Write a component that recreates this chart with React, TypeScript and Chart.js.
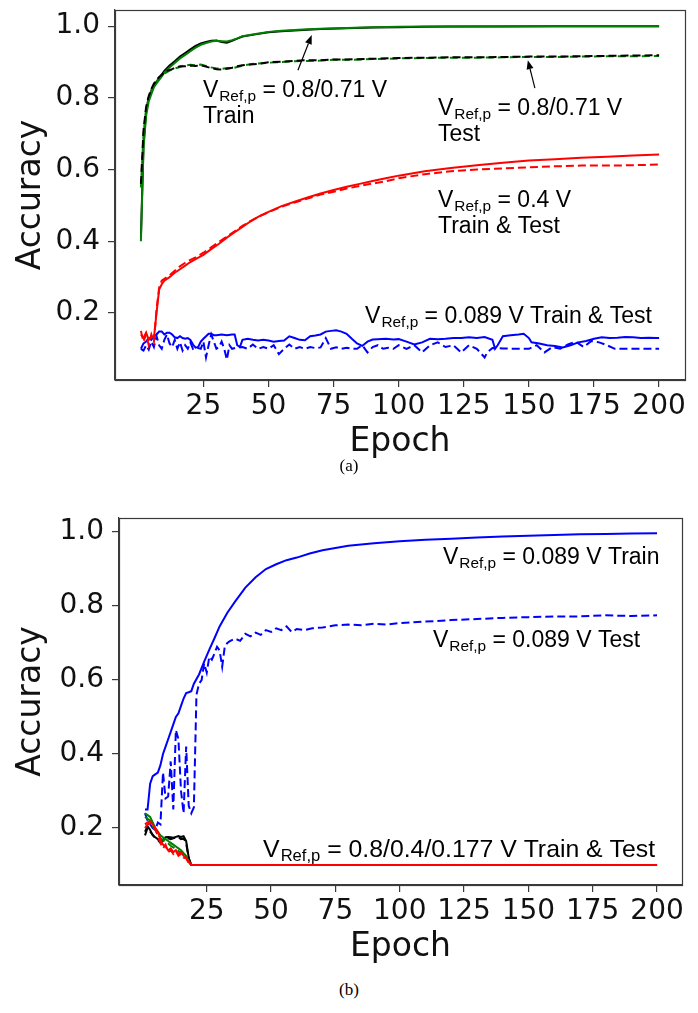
import React, { useEffect, useRef } from "react";
import { Chart, registerables } from "chart.js";
Chart.register(...registerables);

// ---------- tick labels ----------
const X_TICKS = [25, 50, 75, 100, 125, 150, 175, 200];
const Y_TICKS = [0.2, 0.4, 0.6, 0.8, 1.0];

// ---------- (a) top panel ----------
const A_TRAIN_EP = [1, 2, 3, 4, 5, 6, 7, 8, 9, 10, 12, 14, 16, 18, 20, 22, 24, 26, 28, 30, 32, 34, 36, 38, 40, 45, 50, 55, 60, 65, 70, 80, 90, 100, 110, 120, 140, 160, 180, 200];
const A_GREEN_TRAIN = [0.40, 0.66, 0.75, 0.79, 0.81, 0.83, 0.84, 0.85, 0.86, 0.87, 0.885, 0.897, 0.91, 0.92, 0.93, 0.94, 0.948, 0.953, 0.957, 0.959, 0.958, 0.957, 0.961, 0.966, 0.972, 0.978, 0.984, 0.987, 0.989, 0.991, 0.993, 0.995, 0.997, 0.998, 0.999, 0.999, 1.0, 1.0, 1.0, 1.0];
const A_BLACK_TRAIN = [0.41, 0.67, 0.76, 0.80, 0.82, 0.835, 0.845, 0.855, 0.865, 0.875, 0.89, 0.902, 0.915, 0.925, 0.935, 0.945, 0.952, 0.956, 0.959, 0.96, 0.956, 0.954, 0.959, 0.965, 0.971, 0.977, 0.983, 0.986, 0.988, 0.99, 0.992, 0.994, 0.996, 0.997, 0.998, 0.999, 0.999, 1.0, 1.0, 1.0];

const A_TEST_EP = [1, 2, 3, 4, 5, 6, 7, 8, 9, 10, 11, 12, 13, 14, 16, 18, 20, 22, 24, 26, 28, 30, 32, 34, 36, 38, 40, 43, 46, 50, 55, 60, 65, 70, 75, 80, 90, 100, 110, 120, 130, 140, 150, 160, 170, 180, 190, 200];
const A_GREEN_TEST = [0.55, 0.70, 0.77, 0.80, 0.82, 0.835, 0.845, 0.855, 0.862, 0.868, 0.872, 0.876, 0.879, 0.882, 0.886, 0.89, 0.892, 0.891, 0.893, 0.889, 0.885, 0.882, 0.881, 0.883, 0.882, 0.886, 0.89, 0.894, 0.896, 0.898, 0.9, 0.902, 0.903, 0.904, 0.906, 0.906, 0.908, 0.91, 0.911, 0.912, 0.912, 0.913, 0.914, 0.914, 0.915, 0.916, 0.916, 0.917];
const A_BLACK_TEST = [0.56, 0.71, 0.775, 0.805, 0.825, 0.84, 0.85, 0.858, 0.864, 0.87, 0.875, 0.878, 0.88, 0.884, 0.888, 0.888, 0.89, 0.889, 0.891, 0.887, 0.883, 0.88, 0.879, 0.881, 0.884, 0.888, 0.891, 0.893, 0.895, 0.899, 0.901, 0.903, 0.905, 0.905, 0.907, 0.907, 0.909, 0.911, 0.912, 0.913, 0.913, 0.914, 0.915, 0.915, 0.916, 0.917, 0.918, 0.919];

const A_RED_EP = [1, 2, 3, 4, 5, 6, 7, 8, 9, 10, 12, 14, 16, 18, 20, 22, 25, 28, 31, 34, 37, 40, 43, 46, 50, 55, 60, 65, 70, 75, 80, 85, 90, 95, 100, 110, 120, 130, 140, 150, 160, 170, 180, 190, 200];
const A_RED_TRAIN = [0.14, 0.13, 0.145, 0.125, 0.135, 0.13, 0.2, 0.265, 0.28, 0.29, 0.3, 0.312, 0.322, 0.332, 0.342, 0.35, 0.362, 0.378, 0.393, 0.41, 0.425, 0.44, 0.455, 0.468, 0.482, 0.498, 0.51, 0.522, 0.533, 0.543, 0.552, 0.56, 0.568, 0.576, 0.583, 0.595, 0.604, 0.612, 0.619, 0.625, 0.629, 0.633, 0.636, 0.639, 0.642];
const A_RED_TEST = [0.15, 0.12, 0.14, 0.11, 0.14, 0.12, 0.21, 0.27, 0.29, 0.295, 0.305, 0.318, 0.33, 0.34, 0.348, 0.355, 0.368, 0.383, 0.398, 0.413, 0.428, 0.443, 0.456, 0.468, 0.481, 0.496, 0.508, 0.519, 0.53, 0.538, 0.547, 0.554, 0.561, 0.567, 0.576, 0.587, 0.595, 0.6, 0.603, 0.606, 0.609, 0.611, 0.611, 0.612, 0.614];

const A_BLUE_TRAIN_EP = [1, 2, 3, 4, 5, 6, 7, 8, 9, 10, 11, 12, 13, 14, 15, 16, 17, 18, 19, 20, 21, 22, 23, 24, 25, 26, 27, 28, 29, 30, 32, 34, 36, 37, 38, 39, 40, 42, 44, 46, 48, 50, 52, 54, 56, 58, 60, 62, 64, 66, 68, 70, 72, 74, 76, 78, 80, 82, 84, 86, 88, 90, 92, 95, 98, 100, 103, 106, 109, 112, 115, 118, 121, 124, 127, 130, 133, 136, 137, 138, 140, 143, 146, 148, 150, 151, 154, 157, 160, 163, 166, 169, 172, 175, 178, 181, 184, 187, 190, 193, 196, 199, 200];
const A_BLUE_TRAIN = [0.10, 0.115, 0.12, 0.13, 0.125, 0.135, 0.14, 0.148, 0.148, 0.14, 0.145, 0.145, 0.14, 0.132, 0.13, 0.135, 0.13, 0.128, 0.13, 0.125, 0.112, 0.103, 0.105, 0.12, 0.128, 0.135, 0.142, 0.142, 0.138, 0.138, 0.14, 0.138, 0.14, 0.14, 0.11, 0.105, 0.125, 0.128, 0.125, 0.123, 0.125, 0.123, 0.12, 0.122, 0.123, 0.135, 0.13, 0.125, 0.124, 0.135, 0.137, 0.14, 0.148, 0.15, 0.152, 0.148, 0.142, 0.128, 0.115, 0.108, 0.12, 0.126, 0.127, 0.128, 0.126, 0.127, 0.12, 0.112, 0.118, 0.128, 0.127, 0.128, 0.13, 0.13, 0.132, 0.13, 0.133, 0.125, 0.1, 0.11, 0.135, 0.138, 0.14, 0.142, 0.13, 0.118, 0.115, 0.11, 0.108, 0.104, 0.11, 0.118, 0.122, 0.128, 0.132, 0.13, 0.131, 0.133, 0.132, 0.13, 0.131, 0.13, 0.13];

const A_BLUE_TEST_EP = [1, 2, 3, 4, 5, 6, 7, 8, 9, 10, 11, 12, 13, 14, 15, 16, 17, 18, 19, 20, 21, 22, 24, 25, 26, 27, 28, 29, 30, 31, 32, 33, 34, 35, 36, 38, 40, 42, 44, 46, 48, 50, 52, 54, 56, 58, 60, 62, 64, 66, 68, 70, 72, 74, 76, 78, 80, 82, 84, 86, 88, 90, 92, 94, 96, 98, 100, 103, 106, 109, 112, 115, 118, 121, 124, 127, 130, 133, 134, 136, 140, 145, 150, 153, 156, 159, 162, 165, 168, 171, 174, 177, 180, 183, 186, 190, 195, 200];
const A_BLUE_TEST = [0.10, 0.095, 0.11, 0.098, 0.12, 0.105, 0.135, 0.11, 0.10, 0.125, 0.14, 0.115, 0.105, 0.125, 0.1, 0.118, 0.095, 0.11, 0.1, 0.118, 0.1, 0.104, 0.1, 0.12, 0.076, 0.11, 0.14, 0.12, 0.1, 0.105, 0.12, 0.1, 0.07, 0.11, 0.1, 0.104, 0.105, 0.1, 0.112, 0.1, 0.105, 0.1, 0.11, 0.085, 0.1, 0.112, 0.1, 0.105, 0.1, 0.105, 0.102, 0.104, 0.13, 0.1, 0.104, 0.1, 0.103, 0.1, 0.1, 0.11, 0.09, 0.105, 0.11, 0.1, 0.103, 0.1, 0.11, 0.1, 0.11, 0.09, 0.11, 0.118, 0.105, 0.11, 0.09, 0.11, 0.1, 0.076, 0.09, 0.102, 0.101, 0.1, 0.1, 0.11, 0.09, 0.105, 0.1, 0.112, 0.12, 0.105, 0.122, 0.118, 0.11, 0.1, 0.1, 0.1, 0.1, 0.1];

// ---------- (b) bottom panel ----------
const B_BLUE_TRAIN_EP = [1, 2, 3, 4, 5, 6, 7, 8, 9, 10, 11, 12, 13, 14, 15, 16, 17, 18, 19, 20, 22, 24, 26, 28, 30, 33, 36, 40, 44, 48, 52, 56, 60, 65, 70, 75, 80, 90, 100, 110, 120, 130, 140, 150, 160, 170, 180, 190, 200];
const B_BLUE_TRAIN = [0.25, 0.25, 0.32, 0.34, 0.345, 0.35, 0.37, 0.4, 0.42, 0.44, 0.46, 0.48, 0.5, 0.51, 0.53, 0.55, 0.565, 0.567, 0.57, 0.59, 0.615, 0.65, 0.682, 0.713, 0.745, 0.782, 0.812, 0.85, 0.878, 0.9, 0.913, 0.924, 0.931, 0.942, 0.951, 0.957, 0.963, 0.97, 0.975, 0.979, 0.982, 0.985, 0.988, 0.99, 0.992, 0.994, 0.995, 0.996, 0.997];

const B_BLUE_TEST_EP = [1, 2, 3, 4, 5, 6, 7, 8, 9, 10, 11, 12, 13, 14, 15, 16, 17, 18, 19, 20, 21, 22, 23, 24, 25, 26, 27, 28, 29, 30, 31, 32, 33, 34, 36, 38, 40, 42, 44, 46, 48, 50, 52, 54, 56, 58, 60, 63, 66, 70, 75, 80, 85, 90, 95, 100, 110, 120, 130, 140, 150, 160, 170, 180, 190, 200];
const B_BLUE_TEST = [0.24, 0.22, 0.21, 0.2, 0.195, 0.215, 0.21, 0.35, 0.28, 0.285, 0.38, 0.25, 0.465, 0.44, 0.3, 0.24, 0.42, 0.26, 0.24, 0.256, 0.56, 0.59, 0.6, 0.645, 0.62, 0.663, 0.655, 0.672, 0.69, 0.68, 0.636, 0.69, 0.7, 0.705, 0.712, 0.706, 0.725, 0.718, 0.728, 0.722, 0.735, 0.73, 0.74, 0.735, 0.745, 0.73, 0.738, 0.735, 0.74, 0.742, 0.748, 0.75, 0.748, 0.752, 0.75, 0.754, 0.758, 0.762, 0.765, 0.768, 0.77, 0.772, 0.772, 0.775, 0.773, 0.775];

const B_LOW_EP = [1, 2, 3, 4, 5, 6, 7, 8, 9, 10, 11, 12, 13, 14, 15, 16, 17, 18, 19, 20, 60, 100, 140, 200];
const B_BLACK_TRAIN = [0.19, 0.205, 0.195, 0.18, 0.175, 0.17, 0.165, 0.168, 0.175, 0.176, 0.175, 0.174, 0.176, 0.178, 0.176, 0.178, 0.165, 0.12, 0.1, 0.1, 0.1, 0.1, 0.1, 0.1];
const B_BLACK_TEST = [0.18, 0.2, 0.19, 0.182, 0.172, 0.168, 0.16, 0.165, 0.17, 0.172, 0.17, 0.172, 0.174, 0.175, 0.17, 0.172, 0.16, 0.115, 0.1, 0.1, 0.1, 0.1, 0.1, 0.1];
const B_GREEN_TRAIN = [0.24, 0.235, 0.23, 0.215, 0.2, 0.19, 0.18, 0.175, 0.17, 0.165, 0.16, 0.155, 0.15, 0.145, 0.14, 0.132, 0.125, 0.11, 0.1, 0.1, 0.1, 0.1, 0.1, 0.1];
const B_GREEN_TEST = [0.23, 0.225, 0.22, 0.205, 0.195, 0.185, 0.172, 0.168, 0.162, 0.158, 0.152, 0.148, 0.143, 0.138, 0.133, 0.127, 0.12, 0.108, 0.1, 0.1, 0.1, 0.1, 0.1, 0.1];
const B_RED_TRAIN = [0.21, 0.215, 0.218, 0.21, 0.2, 0.19, 0.17, 0.155, 0.15, 0.14, 0.145, 0.135, 0.14, 0.13, 0.135, 0.125, 0.12, 0.11, 0.1, 0.1, 0.1, 0.1, 0.1, 0.1];
const B_RED_TEST = [0.2, 0.21, 0.212, 0.205, 0.195, 0.18, 0.16, 0.145, 0.155, 0.135, 0.14, 0.13, 0.138, 0.125, 0.13, 0.12, 0.118, 0.105, 0.1, 0.1, 0.1, 0.1, 0.1, 0.1];

// ---------- annotations (epoch, accuracy of the text baseline) ----------
type Ann = { x: number; y: number; rest: string; line2?: string; size?: number };
const ANN_A: Ann[] = [
  { x: 24.8, y: 0.802, rest: " = 0.8/0.71 V", line2: "Train" },
  { x: 115.1, y: 0.752, rest: " = 0.8/0.71 V", line2: "Test" },
  { x: 115.1, y: 0.4955, rest: " = 0.4 V", line2: "Train & Test" },
  { x: 87.1, y: 0.172, rest: " = 0.089 V Train & Test" },
];
const ARROWS_A = [
  { from: [61.3, 0.877], to: [66.6, 0.975] },
  { from: [152.3, 0.827], to: [149.6, 0.905] },
];
const ANN_B: Ann[] = [
  { x: 116.8, y: 0.913, rest: " = 0.089 V Train" },
  { x: 112.9, y: 0.688, rest: " = 0.089 V Test" },
  { x: 46.9, y: 0.122, rest: " = 0.8/0.4/0.177 V Train & Test", size: 24.8 },
];

const pts = (ep: number[], v: number[]) => ep.map((e, i) => ({ x: e, y: v[i] }));

const line = (data: any[], color: string, dashed: boolean) => ({
  data,
  borderColor: color,
  backgroundColor: color,
  borderWidth: 2,
  borderDash: dashed ? [8, 4] : [],
  pointRadius: 0,
  fill: false,
  tension: 0,
});

const TICK_FONT = { family: "'DejaVu Sans', sans-serif", size: 28 };
const TITLE_FONT = { family: "'DejaVu Sans', sans-serif", size: 33, lineHeight: 1 };
const AXIS_COLOR = "#3a3a3a";
const ANN_FAMILY = "'Liberation Sans', Arial, sans-serif";

function makePlugin(anns: Ann[], arrows: { from: number[]; to: number[] }[]) {
  return {
    id: "decor",
    afterDraw(chart: any) {
      const { ctx, chartArea: a, scales } = chart;
      const xs = scales.x, ys = scales.y;
      ctx.save();
      // frame
      ctx.strokeStyle = AXIS_COLOR;
      ctx.lineWidth = 1.2;
      ctx.strokeRect(a.left + 0.5, a.top + 0.5, a.right - a.left, a.bottom - a.top);
      // texts
      ctx.fillStyle = "#000";
      ctx.textBaseline = "alphabetic";
      ctx.textAlign = "left";
      for (const t of anns) {
        const size = t.size ?? 23;
        const main = `${size}px ${ANN_FAMILY}`;
        const sub = `${(size * 0.67).toFixed(1)}px ${ANN_FAMILY}`;
        let px = xs.getPixelForValue(t.x);
        const py = ys.getPixelForValue(t.y);
        const x0 = px;
        ctx.font = main;
        ctx.fillText("V", px, py);
        px += ctx.measureText("V").width + 1;
        ctx.font = sub;
        ctx.fillText("Ref,p", px, py + 4);
        px += ctx.measureText("Ref,p").width;
        ctx.font = main;
        ctx.fillText(t.rest, px, py);
        if (t.line2) ctx.fillText(t.line2, x0, py + 26);
      }
      // arrows
      ctx.strokeStyle = "#000";
      ctx.fillStyle = "#000";
      ctx.lineWidth = 1.2;
      for (const ar of arrows) {
        const x1 = xs.getPixelForValue(ar.from[0]), y1 = ys.getPixelForValue(ar.from[1]);
        const x2 = xs.getPixelForValue(ar.to[0]), y2 = ys.getPixelForValue(ar.to[1]);
        const ang = Math.atan2(y2 - y1, x2 - x1);
        const hl = 9, hw = 3.5;
        const bx = x2 - hl * Math.cos(ang), by = y2 - hl * Math.sin(ang);
        ctx.beginPath();
        ctx.moveTo(x1, y1);
        ctx.lineTo(bx, by);
        ctx.stroke();
        ctx.beginPath();
        ctx.moveTo(x2, y2);
        ctx.lineTo(bx + hw * Math.sin(ang), by - hw * Math.cos(ang));
        ctx.lineTo(bx - hw * Math.sin(ang), by + hw * Math.cos(ang));
        ctx.closePath();
        ctx.fill();
      }
      ctx.restore();
    },
  };
}

function makeConfig(opts: {
  datasets: any[];
  xMin: number; xMax: number; yMin: number; yMax: number;
  yWidth: number; padding: any; anns: Ann[]; arrows: any[];
}) {
  return {
    type: "line" as const,
    data: { datasets: opts.datasets },
    options: {
      animation: false as const,
      responsive: false,
      devicePixelRatio: 1,
      parsing: false as const,
      layout: { padding: opts.padding },
      plugins: { legend: { display: false }, tooltip: { enabled: false } },
      scales: {
        x: {
          type: "linear" as const,
          min: opts.xMin,
          max: opts.xMax,
          afterBuildTicks: (s: any) => { s.ticks = X_TICKS.map((v) => ({ value: v })); },
          afterFit: (s: any) => { s.height = 80; s.paddingLeft = 0; s.paddingRight = 0; },
          ticks: { font: TICK_FONT, color: "#111", padding: 3, maxRotation: 0, autoSkip: false, callback: (v: any) => String(v) },
          grid: { display: true, drawOnChartArea: false, drawTicks: true, tickLength: 7, color: AXIS_COLOR, lineWidth: 1.2 },
          border: { display: true, color: AXIS_COLOR, width: 1.2 },
          title: { display: true, text: "Epoch", font: TITLE_FONT, color: "#111", padding: { top: 0, bottom: 1 } },
        },
        y: {
          type: "linear" as const,
          min: opts.yMin,
          max: opts.yMax,
          afterBuildTicks: (s: any) => { s.ticks = Y_TICKS.map((v) => ({ value: v })); },
          afterFit: (s: any) => { s.width = opts.yWidth; s.paddingTop = 0; s.paddingBottom = 0; },
          ticks: { font: TICK_FONT, color: "#111", padding: 8, callback: (v: any) => Number(v).toFixed(1) },
          grid: { display: true, drawOnChartArea: false, drawTicks: true, tickLength: 7, color: AXIS_COLOR, lineWidth: 1.2 },
          border: { display: true, color: AXIS_COLOR, width: 1.2 },
          title: { display: true, text: "Accuracy", font: TITLE_FONT, color: "#111", padding: { top: 15, bottom: 0 } },
        },
      },
    },
    plugins: [makePlugin(opts.anns, opts.arrows)],
  };
}

export default function App() {
  const topRef = useRef<HTMLCanvasElement>(null);
  const botRef = useRef<HTMLCanvasElement>(null);

  useEffect(() => {
    const topChart = new Chart(topRef.current as HTMLCanvasElement, makeConfig({
      datasets: [
        line(pts(A_TEST_EP, A_BLACK_TEST), "#000000", true),
        line(pts(A_TEST_EP, A_GREEN_TEST), "#008000", true),
        line(pts(A_TRAIN_EP, A_GREEN_TRAIN), "#008000", false),
        line(pts(A_TRAIN_EP, A_BLACK_TRAIN), "#000000", false),
        line(pts(A_RED_EP, A_RED_TRAIN), "#ff0000", false),
        line(pts(A_RED_EP, A_RED_TEST), "#ff0000", true),
        line(pts(A_BLUE_TRAIN_EP, A_BLUE_TRAIN), "#0000ff", false),
        line(pts(A_BLUE_TEST_EP, A_BLUE_TEST), "#0000ff", true),
      ],
      xMin: -8.95, xMax: 209.95, yMin: 0.013, yMax: 1.045,
      yWidth: 115,
      padding: { left: 0, top: 10, right: 13, bottom: 0 },
      anns: ANN_A, arrows: ARROWS_A,
    }) as any);

    const botChart = new Chart(botRef.current as HTMLCanvasElement, makeConfig({
      datasets: [
        line(pts(B_LOW_EP, B_RED_TRAIN), "#ff0000", false),
        line(pts(B_LOW_EP, B_RED_TEST), "#ff0000", true),
        line(pts(B_LOW_EP, B_GREEN_TRAIN), "#008000", false),
        line(pts(B_LOW_EP, B_GREEN_TEST), "#008000", true),
        line(pts(B_LOW_EP, B_BLACK_TRAIN), "#000000", false),
        line(pts(B_LOW_EP, B_BLACK_TEST), "#000000", true),
        line(pts(B_BLUE_TRAIN_EP, B_BLUE_TRAIN), "#0000ff", false),
        line(pts(B_BLUE_TEST_EP, B_BLUE_TEST), "#0000ff", true),
      ],
      xMin: -9.1, xMax: 209.7, yMin: 0.046, yMax: 1.038,
      yWidth: 119,
      padding: { left: 0, top: 18, right: 16, bottom: 5 },
      anns: ANN_B, arrows: [],
    }) as any);

    return () => {
      topChart.destroy();
      botChart.destroy();
    };
  }, []);

  const caption: React.CSSProperties = {
    position: "absolute", left: 0, width: 698, textAlign: "center",
    fontFamily: "'Liberation Serif', 'Times New Roman', serif", fontSize: 17, lineHeight: "20px", color: "#000",
  };

  return (
    <div style={{ position: "absolute", left: 0, top: 0, width: 698, height: 1013, background: "#fff", overflow: "hidden" }}>
      <canvas ref={topRef} width={698} height={460} style={{ position: "absolute", left: 0, top: 0, width: 698, height: 460 }} />
      <div style={{ ...caption, top: 456 }}>(a)</div>
      <canvas ref={botRef} width={698} height={470} style={{ position: "absolute", left: 0, top: 500, width: 698, height: 470 }} />
      <div style={{ ...caption, top: 980 }}>(b)</div>
    </div>
  );
}
